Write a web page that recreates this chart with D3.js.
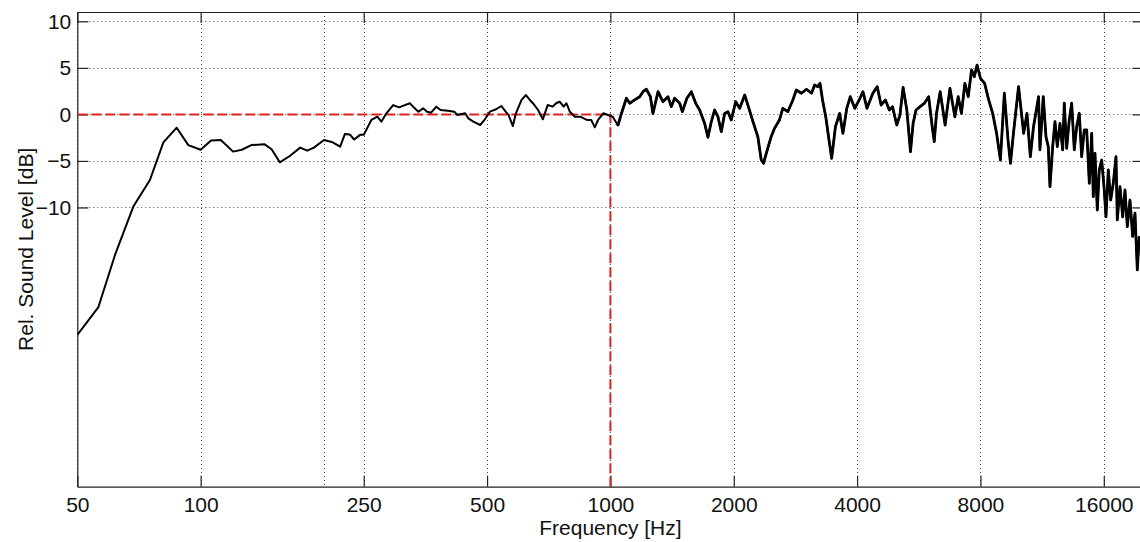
<!DOCTYPE html>
<html>
<head>
<meta charset="utf-8">
<script src="https://cdn.jsdelivr.net/npm/d3@7"></script>
<style>
body { margin: 0; background: #fff; }
text { font-family: "Liberation Sans", Arial, sans-serif; fill: #111; }
</style>
</head>
<body>
<script>
//Size of the picture
var W = 1140, H = 542;

//Measured response: frequency in Hz and relative level in dB
var freq = [50, 56.3, 61.8, 68.5, 75.2, 81.1, 87.4, 93.3, 100, 106, 112, 120, 126, 133, 143, 149, 156, 165, 175, 182,
	189, 200, 210, 219, 225, 231, 237, 245, 250, 261, 270, 276, 284, 295, 305, 315, 324, 330, 340, 349,
	357, 365, 376, 385, 401, 416, 423, 442, 450, 463, 481, 494, 508, 526, 542, 555, 564, 578, 588, 607,
	622, 636, 647, 666, 684, 703, 723, 737, 752, 769, 781, 796, 819, 844, 876, 898, 916, 933, 961, 986,
	1013, 1036, 1044, 1064, 1094, 1115, 1146, 1179, 1201, 1224, 1252, 1270, 1307, 1343, 1382, 1408, 1434, 1476, 1498, 1537,
	1576, 1615, 1651, 1698, 1730, 1763, 1796, 1830, 1865, 1900, 1936, 1972, 2022, 2068, 2127, 2178, 2228, 2290, 2334, 2364,
	2408, 2468, 2515, 2586, 2635, 2710, 2788, 2842, 2925, 3010, 3097, 3150, 3207, 3248, 3294, 3354, 3416, 3467, 3542, 3626,
	3694, 3775, 3849, 3949, 4047, 4134, 4228, 4370, 4478, 4578, 4690, 4795, 4880, 4999, 5090, 5180, 5290, 5400, 5480, 5570,
	5700, 5840, 5980, 6100, 6170, 6250, 6380, 6560, 6740, 6930, 7060, 7190, 7330, 7470, 7610, 7730, 7850, 8000, 8190, 8380,
	8570, 8760, 8950, 9150, 9340, 9470, 9630, 9910, 10200, 10390, 10590, 10780, 11090,
	11176, 11387, 11562, 11712, 11824, 12005, 12162, 12320, 12508, 12700, 12814, 12987, 13178, 13358, 13554, 13739, 13941, 14129, 14338, 14535,
	14749, 14949, 15083, 15228, 15426, 15600, 15813, 16018, 16198, 16410, 16632, 16877, 17135, 17261, 17525, 17793, 18025, 18259, 18537, 18820,
	19065, 19314, 19531];
var level = [-23.7, -20.7, -15.1, -9.9, -7.05, -3.0, -1.43, -3.3, -3.8, -2.8, -2.75, -4.0, -3.8, -3.3, -3.2, -3.75, -5.15, -4.47, -3.57, -3.9,
	-3.57, -2.75, -3.0, -3.47, -2.1, -2.15, -2.7, -2.2, -2.2, -0.6, -0.25, -0.78, 0.12, 1.0, 0.76, 1.0, 1.2, 0.83, 0.29, 0.65,
	0.29, 0.18, 0.83, 0.47, 0.4, 0.29, -0.06, 0.12, -0.42, -0.78, -1.14, -0.53, 0.29, 0.55, 0.9, 0.29, -0.06, -1.25, 0.12, 1.55,
	2.08, 1.55, 1.2, 0.47, -0.53, 1.0, 0.83, 1.2, 1.36, 0.83, 1.2, 0.29, -0.25, -0.25, -0.6, -0.6, -1.39, -0.6, 0.12, -0.06,
	-0.25, -0.96, -1.14, 0.1, 1.73, 1.2, 1.55, 1.9, 2.44, 2.7, 1.9, 0.1, 2.44, 1.36, 1.9, 0.83, 1.73, 1.2, 0.29, 1.73,
	2.44, 1.2, 0.47, -0.96, -2.46, -0.78, 0.47, -0.25, -1.86, 0.1, 0.29, -0.6, 1.36, 0.65, 2.08, 0.65, -0.78, -2.4, -4.9, -5.25,
	-4.0, -2.4, -1.5, -0.6, 0.65, 0.29, 1.55, 2.62, 2.27, 2.7, 2.27, 3.16, 2.98, 3.34, 1.55, -0.25, -2.75, -4.72, -1.32, 0.1,
	-2.03, 0.65, 1.9, 0.65, 1.55, 2.44, 0.65, 2.27, 2.98, 1.0, 1.55, 0.47, 0.83, -1.14, -0.06, 2.9, 0.47, -4.0, -0.96, 0.47,
	0.83, 1.2, 1.9, -1.32, -2.93, 0.1, 2.44, -1.14, 2.8, -0.25, 1.9, 0.1, 3.34, 1.9, 4.77, 4.05, 5.3, 3.88, 3.34, 1.55,
	0.1, -2.03, -4.9, 2.27, -2.75, -5.25, -2.03, 2.98, -2.03, 0.1, -4.54, -1.32, 1.9,
	-3.8, 1.9, -2.4, -3.47, -7.77, -3.47, -0.78, -3.47, -0.96, -3.8, 1.2, -3.64, -0.6, 1.2, -3.8, -1.32, 0.12, -4.54, -1.68, -1.68,
	-7.4, -2.03, -8.84, -4.18, -10.27, -5.97, -4.9, -7.77, -11.0, -5.97, -9.2, -7.4, -4.54, -11.34, -7.77, -11.0, -8.12, -12.06, -9.2, -13.1,
	-10.6, -16.7, -13.1];

//Axis ticks
var xTicks = [50, 100, 250, 500, 1000, 2000, 4000, 8000, 16000];
var xGridExtra = [200];
var yTicks = [-10, -5, 0, 5, 10];

//Reference level and reference frequency (red dashed lines)
var refLevel = 0, refFreq = 1000;

var data = freq.map(function(f, i){ return {f: f, db: level[i]}; });

//Plot box (note: "top" is taken by window.top, so other names)
var pLeft = 77.3, pTop = 12, pRight = 1143.5, pBottom = 486.7;

var x = d3.scaleLog().domain([50, 20000]).range([pLeft, pRight]);
var y = d3.scaleLinear().domain([-40, 11]).range([pBottom, pTop]);

var svg = d3.select("body")
	.append("svg")
	.attr("width", W)
	.attr("height", H);

svg.append("rect")
	.attr("width", W)
	.attr("height", H)
	.style("fill", "white");

svg.append("clipPath").attr("id", "plotclip")
	.append("rect")
	.attr("x", pLeft).attr("y", pTop)
	.attr("width", pRight - pLeft).attr("height", pBottom - pTop);

//Dotted grid
var grid = svg.append("g").attr("stroke", "#444").attr("stroke-width", 1).attr("stroke-dasharray", "1,3");
grid.selectAll("line.v")
	.data(xTicks.concat(xGridExtra))
	.enter().append("line")
	.attr("class", "v")
	.attr("x1", function(d){ return Math.round(x(d)) + 0.5; })
	.attr("x2", function(d){ return Math.round(x(d)) + 0.5; })
	.attr("y1", pTop).attr("y2", pBottom);
grid.selectAll("line.h")
	.data(yTicks)
	.enter().append("line")
	.attr("class", "h")
	.attr("y1", function(d){ return Math.round(y(d)) + 0.5; })
	.attr("y2", function(d){ return Math.round(y(d)) + 0.5; })
	.attr("x1", pLeft).attr("x2", pRight);

//Axes: d3 axes with inward ticks, labels on left and bottom only
var tickLen = 11;
var xAxisB = d3.axisBottom(x).tickValues(xTicks).tickFormat(d3.format("d")).tickSizeInner(-tickLen).tickSizeOuter(0).tickPadding(10);
var xAxisT = d3.axisTop(x).tickValues(xTicks).tickFormat("").tickSizeInner(-tickLen).tickSizeOuter(0);
var yAxisL = d3.axisLeft(y).tickValues(yTicks).tickSizeInner(-tickLen).tickSizeOuter(0).tickPadding(6);
var yAxisR = d3.axisRight(y).tickValues(yTicks).tickFormat("").tickSizeInner(-tickLen).tickSizeOuter(0);

function styleAxis(g){
	g.selectAll("path.domain").attr("stroke", "#222").attr("stroke-width", 1.2);
	g.selectAll(".tick line").attr("stroke", "#222").attr("stroke-width", 1.2);
	g.selectAll("text").attr("font-size", "21px").attr("fill", "#111")
		.attr("font-family", "'Liberation Sans', Arial, sans-serif");
}

svg.append("g").attr("transform", "translate(0," + pBottom + ")").call(xAxisB).call(styleAxis);
svg.append("g").attr("transform", "translate(0," + pTop + ")").call(xAxisT).call(styleAxis);
svg.append("g").attr("transform", "translate(" + pLeft + ",0)").call(yAxisL).call(styleAxis);
svg.append("g").attr("transform", "translate(" + pRight + ",0)").call(yAxisR).call(styleAxis);

//Red dashed reference lines
svg.append("path")
	.attr("d", "M" + x(50) + "," + y(refLevel) + "H" + x(refFreq) + "V" + pBottom)
	.attr("fill", "none")
	.attr("stroke", "#dd2222")
	.attr("stroke-width", 2)
	.attr("stroke-dasharray", "10,4");

//Response curve; the dense upper part looks heavier in the original, so it gets a wider stroke
var line = d3.line()
	.x(function(d){ return x(d.f); })
	.y(function(d){ return y(d.db); });

svg.append("path")
	.datum(data)
	.attr("clip-path", "url(#plotclip)")
	.attr("d", line)
	.attr("fill", "none")
	.attr("stroke", "#000")
	.attr("stroke-width", 2)
	.attr("stroke-linejoin", "round");

svg.append("path")
	.datum(data.filter(function(d){ return d.f >= 1036; }))
	.attr("clip-path", "url(#plotclip)")
	.attr("d", line)
	.attr("fill", "none")
	.attr("stroke", "#000")
	.attr("stroke-width", 2.8)
	.attr("stroke-linejoin", "round");

//Axis titles
svg.append("text")
	.attr("x", (pLeft + pRight) / 2)
	.attr("y", 535)
	.attr("text-anchor", "middle")
	.attr("font-size", "21px")
	.text("Frequency [Hz]");

svg.append("text")
	.attr("transform", "translate(33," + ((pTop + pBottom) / 2) + ") rotate(-90)")
	.attr("text-anchor", "middle")
	.attr("font-size", "21px")
	.text("Rel. Sound Level [dB]");
</script>
</body>
</html>
